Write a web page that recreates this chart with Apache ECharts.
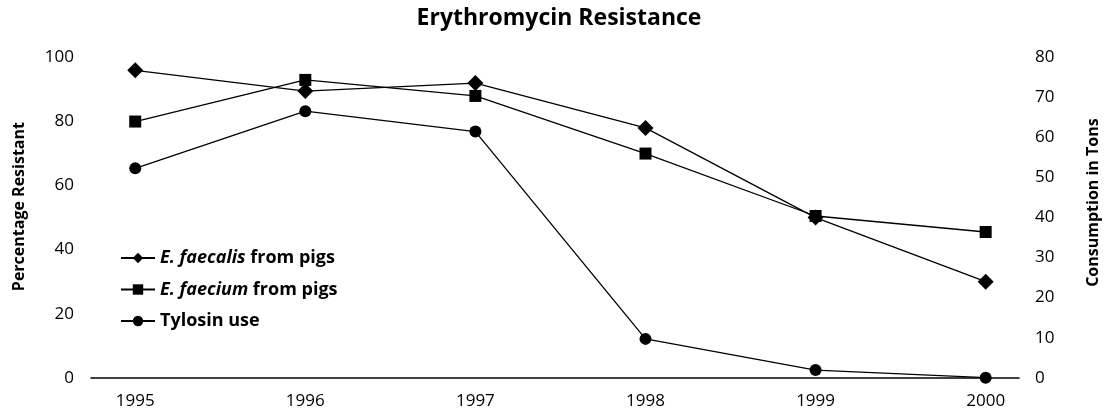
<!DOCTYPE html>
<html>
<head>
<meta charset="utf-8">
<script src="https://cdn.jsdelivr.net/npm/echarts@6/dist/echarts.min.js"></script>
<style>
  html, body { margin: 0; padding: 0; background: #fff; }
  #chart { width: 1118px; height: 415px; }
</style>
</head>
<body>
<div id="chart"></div>
<script>
// data
const years = [1995, 1996, 1997, 1998, 1999, 2000];
const faecalisPigs = [96, 89.5, 92, 78, 50, 30];      // % resistant
const faeciumPigs = [80, 93, 88, 70, 50.5, 45.5];     // % resistant
const tylosinUse = [52.3, 66.6, 61.5, 9.7, 1.9, 0];   // tons
const leftTicks = [0, 20, 40, 60, 80, 100];
const rightTicks = [0, 10, 20, 30, 40, 50, 60, 70, 80];

const FONT = "Open Sans";
const pairs = (vals) => years.map((y, i) => [y, vals[i]]);

const chart = echarts.init(document.getElementById("chart"));

const option = {
  animation: false,
  backgroundColor: "#fff",
  textStyle: { fontFamily: FONT, color: "#000" },
  title: {
    text: "Erythromycin Resistance",
    left: "center",
    top: 2,
    textStyle: { fontFamily: FONT, fontWeight: "bold", fontSize: 23, color: "#000" },
  },
  legend: {
    orient: "vertical",
    left: 115,
    top: 241,
    itemWidth: 34,
    itemHeight: 13,
    itemGap: 7.5,
    data: ["E. faecalis from pigs", "E. faecium from pigs", "Tylosin use"],
    formatter: function (name) {
      if (name.indexOf("E. ") === 0) {
        const sp = name.indexOf(" from");
        return "{i|" + name.slice(0, sp) + "}" + name.slice(sp);
      }
      return name;
    },
    textStyle: {
      fontFamily: FONT,
      fontWeight: "bold",
      fontSize: 18,
      lineHeight: 24,
      color: "#000",
      rich: {
        i: { fontFamily: FONT, fontStyle: "italic", fontWeight: "bold", fontSize: 18, lineHeight: 24, color: "#000" },
      },
    },
  },
  grid: { left: 91, right: 99, top: 57.5, bottom: 37.3 },
  xAxis: {
    type: "value",
    min: 1994.74,
    max: 2000.196,
    axisLine: { show: true, lineStyle: { color: "#000", width: 1.5 } },
    axisTick: { show: false },
    splitLine: { show: false },
    axisLabel: {
      customValues: years,
      margin: 15,
      fontSize: 17,
      fontFamily: FONT,
      color: "#000",
      formatter: (v) => String(v),
    },
  },
  yAxis: [
    {
      type: "value",
      min: 0,
      max: 100,
      interval: 20,
      name: "Percentage Resistant",
      nameLocation: "middle",
      nameGap: 64,
      nameTextStyle: {
        fontFamily: FONT, fontWeight: "bold", fontSize: 16, color: "#000",
        padding: [0, 0, 0, 22],
      },
      axisLine: { show: false },
      axisTick: { show: false },
      splitLine: { show: false },
      axisLabel: {
        customValues: leftTicks,
        margin: 17,
        fontSize: 17,
        fontFamily: FONT,
        color: "#000",
      },
    },
    {
      type: "value",
      min: 0,
      max: 80,
      interval: 10,
      position: "right",
      name: "Consumption in Tons",
      nameLocation: "middle",
      nameGap: 66,
      nameRotate: 90,
      nameTextStyle: {
        fontFamily: FONT, fontWeight: "bold", fontSize: 16, color: "#000",
        padding: [0, 0, 0, 30],
      },
      axisLine: { show: false },
      axisTick: { show: false },
      splitLine: { show: false },
      axisLabel: {
        customValues: rightTicks,
        margin: 16,
        fontSize: 17,
        fontFamily: FONT,
        color: "#000",
      },
    },
  ],
  series: [
    {
      name: "E. faecalis from pigs",
      type: "line",
      yAxisIndex: 0,
      data: pairs(faecalisPigs),
      symbol: "diamond",
      symbolSize: 16,
      lineStyle: { color: "#000", width: 1.3 },
      itemStyle: { color: "#000" },
    },
    {
      name: "E. faecium from pigs",
      type: "line",
      yAxisIndex: 0,
      data: pairs(faeciumPigs),
      symbol: "rect",
      symbolSize: 12,
      lineStyle: { color: "#000", width: 1.3 },
      itemStyle: { color: "#000" },
    },
    {
      name: "Tylosin use",
      type: "line",
      yAxisIndex: 1,
      data: pairs(tylosinUse),
      symbol: "circle",
      symbolSize: 12,
      lineStyle: { color: "#000", width: 1.3 },
      itemStyle: { color: "#000" },
    },
  ],
};

chart.setOption(option);
</script>
</body>
</html>
